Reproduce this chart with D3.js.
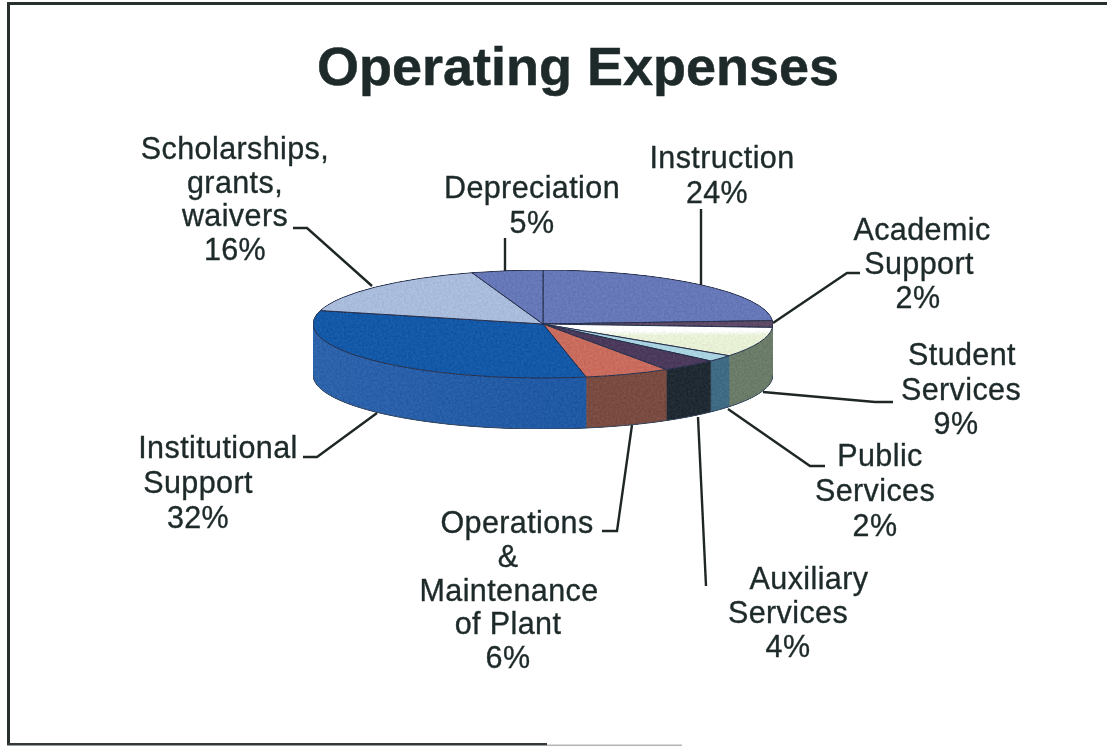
<!DOCTYPE html>
<html>
<head>
<meta charset="utf-8">
<script src="https://cdn.jsdelivr.net/npm/d3@7"></script>
<style>
  html, body { margin: 0; padding: 0; background: #fff; }
  svg { display: block; }
  text { font-family: "Liberation Sans", Arial, sans-serif; fill: #1e2a2a; text-anchor: middle; }
</style>
</head>
<body>
<div id="chart"></div>
<script>
// data, clockwise from 12 o'clock
var categories = ["Instruction", "Academic Support", "Student Services", "Public Services", "Auxiliary Services",
                  "Operations & Maintenance of Plant", "Institutional Support", "Scholarships, grants, waivers", "Depreciation"]
var values = [24, 2, 9, 2, 4, 6, 32, 16, 5]
var labelLines = [["Instruction"], ["Academic", "Support"], ["Student", "Services"], ["Public", "Services"], ["Auxiliary", "Services"],
                  ["Operations", "&", "Maintenance", "of Plant"], ["Institutional", "Support"], ["Scholarships,", "grants,", "waivers"], ["Depreciation"]]

// styles
var topColors = ["#6678b8", "#5e4a66", "url(#studentTop)", "#a9d3e0", "#4b3a5c", "#c96c5e", "#1458a8", "#a9bcdc", "#6678b8"]
var wallColors = ["#6678b8", "#667a66", "#6b7d68", "#3f6b85", "#1f2a32", "#7a4b40", "url(#institutionalWall)", "#8092b8", "#56669c"]

// layout: per-line centres and first baseline of each label
var labelX = [[722, 717], [922, 919, 918], [962, 961, 956], [880, 875, 875], [809, 788, 788],
              [517, 508, 509, 508, 508], [218, 198, 198], [235, 235, 235, 235], [532, 532]]
var labelY = [168, 240, 365, 466, 589, 533, 458, 159, 198]
var labelStep = [35, 34, 34.5, 35, 34, 33.8, 35, 33.7, 35]

// leader lines, one per slice
var leaders = [
  [[701, 209], [701, 285]],
  [[860, 273], [847, 273], [773, 323]],
  [[893, 402], [875, 402], [763, 392]],
  [[825, 466], [810, 466], [728, 409]],
  [[698, 417], [706, 586]],
  [[602, 531], [617, 531], [632, 425]],
  [[303, 457], [317, 457], [377, 413]],
  [[293, 228], [307, 228], [372, 286]],
  [[505, 238], [505, 271]]
]

var width = 1107, height = 746
var cx = 543, cy = 324, rx = 230, ry = 54, depth = 51

var svg = d3.select("#chart").append("svg")
    .attr("width", width)
    .attr("height", height)

var defs = svg.append("defs")

// top face paths sit in a scaled group, so these run over the slice's own box
var g1 = defs.append("linearGradient").attr("id", "studentTop")
    .attr("x1", 0).attr("y1", 0).attr("x2", 0).attr("y2", 1)
g1.append("stop").attr("offset", "0.2").attr("stop-color", "#ffffff")
g1.append("stop").attr("offset", "0.36").attr("stop-color", "#e9f1d8")
g1.append("stop").attr("offset", "1").attr("stop-color", "#e6efd2")

var g2 = defs.append("linearGradient").attr("id", "institutionalWall")
    .attr("gradientUnits", "userSpaceOnUse")
    .attr("x1", cx - rx).attr("y1", 0).attr("x2", 590).attr("y2", 0)
g2.append("stop").attr("offset", "0").attr("stop-color", "#2d63ab")
g2.append("stop").attr("offset", "1").attr("stop-color", "#1f58a3")

// scan look: a little grain, then a little blur
var scan = defs.append("filter").attr("id", "scan")
    .attr("x", "0").attr("y", "0").attr("width", "1").attr("height", "1")
    .attr("color-interpolation-filters", "sRGB")
scan.append("feTurbulence")
    .attr("type", "fractalNoise").attr("baseFrequency", 0.45).attr("numOctaves", 2).attr("seed", 4).attr("result", "noise")
scan.append("feColorMatrix").attr("in", "noise").attr("type", "matrix")
    .attr("values", "0.6 0 0 0 0  0.6 0 0 0 0  0.6 0 0 0 0  0 0 0 0 1").attr("result", "grey")
scan.append("feComposite").attr("in", "SourceGraphic").attr("in2", "grey").attr("operator", "arithmetic")
    .attr("k1", 0).attr("k2", 1).attr("k3", 0.18).attr("k4", -0.054).attr("result", "grained")
scan.append("feComposite").attr("in", "grained").attr("in2", "SourceGraphic").attr("operator", "in").attr("result", "clipped")
scan.append("feGaussianBlur").attr("in", "clipped").attr("stdDeviation", 0.6)

// page frame: only the left, top and part of the bottom edge survived the scan
var frame = svg.append("g")
frame.append("rect").attr("x", 7).attr("y", 2).attr("width", 3).attr("height", 743).attr("fill", "#28302f")
frame.append("rect").attr("x", 7).attr("y", 2).attr("width", 1100).attr("height", 3).attr("fill", "#28302f")
frame.append("rect").attr("x", 7).attr("y", 743).attr("width", 540).attr("height", 2.5).attr("fill", "#33393a")
frame.append("rect").attr("x", 547).attr("y", 744.5).attr("width", 135).attr("height", 1.5).attr("fill", "#b5b5b5")

svg.append("text")
    .attr("x", 578)
    .attr("y", 85)
    .style("font-size", "54px")
    .style("font-weight", "bold")
    .style("stroke", "#1e2a2a")
    .style("stroke-width", "0.5px")
    .text("Operating Expenses")

// unit circle to page
var x = d3.scaleLinear().domain([-1, 1]).range([cx - rx, cx + rx])
var y = d3.scaleLinear().domain([-1, 1]).range([cy - ry, cy + ry])

var pie = d3.pie().sort(null)
var slices = pie(values)

var line = d3.line()
var arc = d3.arc().innerRadius(0).outerRadius(rx)

var chart = svg.append("g").attr("filter", "url(#scan)")

// side wall of a slice, only the front half of the disc shows
function wallPath(d) {
  var a0 = Math.max(d.startAngle, Math.PI / 2)
  var a1 = Math.min(d.endAngle, Math.PI * 1.5)
  if (a1 <= a0) return null
  var steps = d3.range(0, 41).map(function(i) { return a0 + (a1 - a0) * i / 40 })
  var upper = steps.map(function(a) { return [x(Math.sin(a)), y(-Math.cos(a))] })
  var lower = upper.slice().reverse().map(function(p) { return [p[0], p[1] + depth] })
  return line(upper.concat(lower)) + "Z"
}

chart.selectAll("path.wall")
    .data(slices)
    .enter()
    .append("path")
    .attr("class", "wall")
    .attr("d", wallPath)
    .attr("fill", function(d, i) { return wallColors[i] })
    .attr("stroke", function(d, i) { return wallColors[i] })
    .attr("stroke-width", 0.5)

// outline of the wall's lower rim
var rim = d3.range(0, 81).map(function(i) {
  var a = Math.PI / 2 + Math.PI * i / 80
  return [x(Math.sin(a)), y(-Math.cos(a)) + depth]
})
chart.append("path")
    .attr("d", line(rim))
    .attr("fill", "none")
    .attr("stroke", "#33455f")
    .attr("stroke-width", 1)

chart.selectAll("path.top")
    .data(slices)
    .enter()
    .append("path")
    .attr("class", "top")
    .attr("d", arc)
    .attr("transform", "translate(" + cx + "," + cy + ") scale(1," + (ry / rx) + ")")
    .attr("fill", function(d, i) { return topColors[i] })
    .attr("stroke", "#26304e")
    .attr("stroke-width", 1)
    .style("vector-effect", "non-scaling-stroke")

svg.selectAll("path.leader")
    .data(leaders)
    .enter()
    .append("path")
    .attr("class", "leader")
    .attr("d", function(d) { return line(d) })
    .attr("fill", "none")
    .attr("stroke", "#1e2626")
    .attr("stroke-width", 2.4)

categories.forEach(function(name, i) {
  var lines = labelLines[i].concat([values[i] + "%"])
  var t = svg.append("text").attr("aria-label", name)
  lines.forEach(function(s, j) {
    t.append("tspan")
      .attr("x", labelX[i][j])
      .attr("y", labelY[i] + j * labelStep[i])
      .style("font-size", "30.5px")
      .style("letter-spacing", "0.4px")
      .style("stroke", "#1e2a2a")
      .style("stroke-width", "0.35px")
      .text(s)
  })
})
</script>
</body>
</html>
